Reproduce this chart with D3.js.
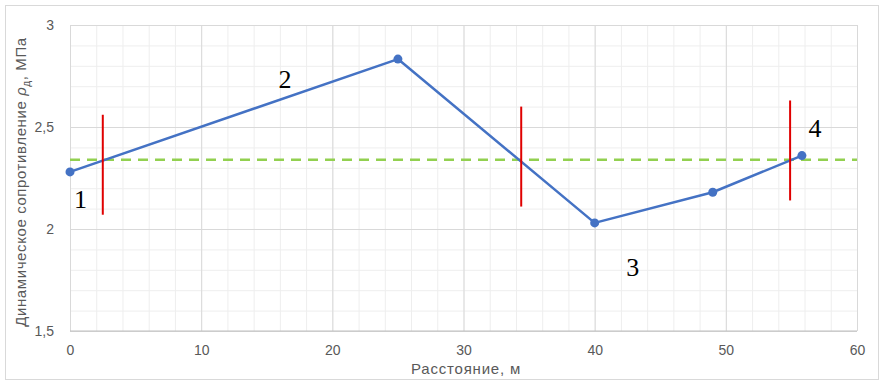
<!DOCTYPE html>
<html>
<head>
<meta charset="utf-8">
<script src="https://cdn.jsdelivr.net/npm/d3@7"></script>
<style>
  body { margin: 0; background: #fff; }
  text { font-family: "Liberation Sans", Arial, sans-serif; }
</style>
</head>
<body>
<script>
// distance along profile (m) and dynamic resistance (MPa)
let distance = [0, 25, 40, 49, 55.8];
let resistance = [2.28, 2.833, 2.03, 2.18, 2.36];

// average level (green dashed)
let meanLevel = 2.34;

// boundaries between zones: x, lower value, upper value
let boundaryX = [2.5, 34.4, 54.9];
let boundaryLow = [2.07, 2.11, 2.14];
let boundaryHigh = [2.56, 2.60, 2.63];

// zone numbers and where they sit
let zoneNames = ['1', '2', '3', '4'];
let zoneX = [0.8, 16.4, 42.9, 56.8];
let zoneY = [2.13, 2.72, 1.8, 2.48];

let xTicks = [0, 10, 20, 30, 40, 50, 60];
let yTicks = [1.5, 2, 2.5, 3];

let w = 884, h = 385;
let pLeft = 70, pRight = 857, pTop = 25, pBottom = 331;
let tickFont = '"Liberation Sans Narrow", "Liberation Sans", Arial, sans-serif';

let svg = d3.select('body').append('svg')
  .attr('width', w).attr('height', h);

// outer frame
svg.append('rect')
  .attr('x', 5.5).attr('y', 5.5)
  .attr('width', w - 11).attr('height', h - 11)
  .attr('fill', '#fff').attr('stroke', '#d9d9d9');

let x = d3.scaleLinear().domain([0, 60]).range([pLeft, pRight]);
let y = d3.scaleLinear().domain([1.5, 3]).range([pBottom, pTop]);

// minor grid
svg.append('g')
  .attr('transform', 'translate(0,' + pBottom + ')')
  .call(d3.axisBottom(x).tickValues(d3.range(0, 61, 2)).tickSize(-(pBottom - pTop)).tickFormat(''))
  .call(g => g.select('.domain').remove())
  .call(g => g.selectAll('line').attr('stroke', '#eeeeee'));
svg.append('g')
  .attr('transform', 'translate(' + pLeft + ',0)')
  .call(d3.axisLeft(y).tickValues(d3.range(15, 31).map(v => v / 10)).tickSize(-(pRight - pLeft)).tickFormat(''))
  .call(g => g.select('.domain').remove())
  .call(g => g.selectAll('line').attr('stroke', '#eeeeee'));

// major grid + tick labels
svg.append('g')
  .attr('transform', 'translate(0,' + pBottom + ')')
  .call(d3.axisBottom(x).tickValues(xTicks).tickSize(-(pBottom - pTop)).tickPadding(14))
  .call(g => g.select('.domain').remove())
  .call(g => g.selectAll('line').attr('stroke', '#d9d9d9'))
  .call(g => g.selectAll('text').attr('fill', '#595959').style('font-size', '14px').style('font-family', tickFont));
svg.append('g')
  .attr('transform', 'translate(' + pLeft + ',0)')
  .call(d3.axisLeft(y).tickValues(yTicks).tickSize(-(pRight - pLeft)).tickPadding(16)
    .tickFormat(d => String(d).replace('.', ',')))
  .call(g => g.select('.domain').remove())
  .call(g => g.selectAll('line').attr('stroke', '#d9d9d9'))
  .call(g => g.selectAll('text').attr('fill', '#595959').style('font-size', '14px').style('font-family', tickFont));

// bottom axis line
svg.append('line')
  .attr('x1', pLeft).attr('x2', pRight)
  .attr('y1', pBottom).attr('y2', pBottom)
  .attr('stroke', '#bfbfbf');

// mean level
svg.append('line')
  .attr('x1', x(0)).attr('x2', x(60))
  .attr('y1', y(meanLevel)).attr('y2', y(meanLevel))
  .attr('stroke', '#92d050').attr('stroke-width', 2.5)
  .attr('stroke-dasharray', '10,7');

// series line
let pts = distance.map((d, i) => [d, resistance[i]]);
svg.append('path')
  .datum(pts)
  .attr('fill', 'none')
  .attr('stroke', '#4472c4')
  .attr('stroke-width', 2.5)
  .attr('stroke-linejoin', 'round')
  .attr('d', d3.line().x(d => x(d[0])).y(d => y(d[1])));

// boundaries
svg.selectAll('line.bound')
  .data(boundaryX)
  .enter().append('line')
  .attr('class', 'bound')
  .attr('x1', d => x(d)).attr('x2', d => x(d))
  .attr('y1', (d, i) => y(boundaryLow[i]))
  .attr('y2', (d, i) => y(boundaryHigh[i]))
  .attr('stroke', '#e00000').attr('stroke-width', 2);

svg.selectAll('circle')
  .data(pts)
  .enter().append('circle')
  .attr('cx', d => x(d[0])).attr('cy', d => y(d[1]))
  .attr('r', 4.5)
  .attr('fill', '#4472c4');

// zone numbers
svg.selectAll('text.zone')
  .data(zoneNames)
  .enter().append('text')
  .attr('class', 'zone')
  .attr('x', (d, i) => x(zoneX[i])).attr('y', (d, i) => y(zoneY[i]))
  .attr('text-anchor', 'middle')
  .attr('dominant-baseline', 'middle')
  .style('font-family', '"Liberation Serif", "Times New Roman", serif')
  .style('font-size', '26px')
  .attr('fill', '#000')
  .text(d => d);

// axis titles
svg.append('text')
  .attr('x', 466).attr('y', 374)
  .attr('text-anchor', 'middle')
  .attr('fill', '#595959')
  .style('font-size', '15px')
  .style('letter-spacing', '0.8px')
  .text('Расстояние, м');

let yt = svg.append('text')
  .attr('transform', 'translate(26,182) rotate(-90)')
  .attr('text-anchor', 'middle')
  .attr('fill', '#595959')
  .style('font-size', '15px')
  .style('letter-spacing', '0.6px');
yt.append('tspan').text('Динамическое сопротивление ');
yt.append('tspan').style('font-style', 'italic').text('ρ');
yt.append('tspan').style('font-size', '10px').attr('dy', 4).text('д');
yt.append('tspan').attr('dy', -4).text(', МПа');
</script>
</body>
</html>
